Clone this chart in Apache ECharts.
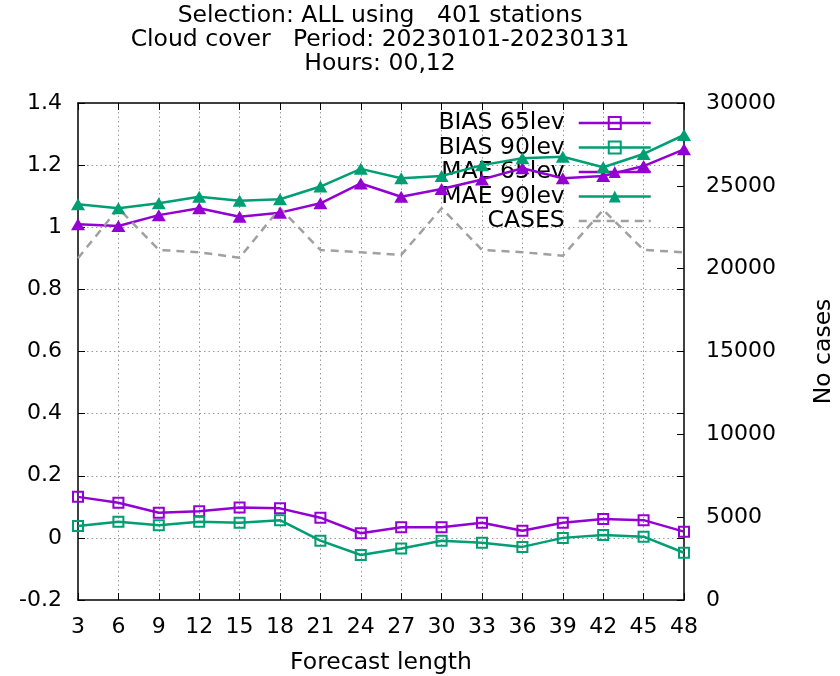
<!DOCTYPE html>
<html>
<head>
<meta charset="utf-8">
<title>Cloud cover verification</title>
<script src="https://cdn.jsdelivr.net/npm/echarts@6/dist/echarts.min.js"></script>
<style>
  html, body { margin: 0; padding: 0; background: #fff; }
  #chart { width: 840px; height: 676px; }
</style>
</head>
<body>
<div id="chart"></div>
<script>
// Forecast lengths (hours)
const steps = [3, 6, 9, 12, 15, 18, 21, 24, 27, 30, 33, 36, 39, 42, 45, 48];

// Scores per forecast length
const bias65 = [0.132, 0.113, 0.081, 0.086, 0.098, 0.095, 0.065, 0.015, 0.034, 0.034, 0.049, 0.023, 0.049, 0.061, 0.057, 0.020];
const bias90 = [0.038, 0.052, 0.041, 0.052, 0.049, 0.057, -0.009, -0.055, -0.034, -0.009, -0.016, -0.029, 0.000, 0.009, 0.004, -0.048];
const mae65 = [1.010, 1.004, 1.039, 1.061, 1.034, 1.047, 1.077, 1.141, 1.098, 1.123, 1.154, 1.190, 1.158, 1.165, 1.197, 1.251];
const mae90 = [1.074, 1.061, 1.077, 1.098, 1.085, 1.090, 1.131, 1.188, 1.158, 1.165, 1.200, 1.222, 1.227, 1.193, 1.236, 1.297];

// Number of cases per forecast length
const cases = [20630, 23650, 21130, 20990, 20660, 23650, 21130, 20990, 20830, 23650, 21130, 20990, 20780, 23550, 21130, 20990];

const titleLines = ['Selection: ALL using   401 stations', 'Cloud cover   Period: 20230101-20230131', 'Hours: 00,12'];

const PURPLE = '#9400d3';
const GREEN = '#009e73';
const GREY = '#a0a0a0';
const FONT = 'DejaVu Sans';
const FS = 22;     // tick labels
const FS_TXT = 23.5; // title, legend, axis names

const pairs = vals => steps.map((s, i) => [s, vals[i]]);

const chart = echarts.init(document.getElementById('chart'), null, { renderer: 'canvas' });

const tickStyle = { show: true, inside: true, length: 7, lineStyle: { color: '#000', width: 1 } };
const boxLine = { show: true, onZero: false, lineStyle: { color: '#000', width: 1.5 } };
const gridDots = { show: true, showMinLine: false, showMaxLine: false, lineStyle: { color: '#999', width: 1, type: [1.5, 3] } };
const labelStyle = { color: '#000', fontFamily: FONT, fontSize: FS };
const nameStyle = { color: '#000', fontFamily: FONT, fontSize: FS_TXT };

function squareSeries(name, color, vals) {
  return {
    name, type: 'line', data: pairs(vals), xAxisIndex: 0, yAxisIndex: 0,
    symbol: 'rect', symbolSize: 10,
    lineStyle: { color, width: 2.5 },
    itemStyle: { color: 'rgba(0,0,0,0)', borderColor: color, borderWidth: 2 },
    emphasis: { disabled: true }, animation: false, z: 3
  };
}
function triangleSeries(name, color, vals) {
  return {
    name, type: 'line', data: pairs(vals), xAxisIndex: 0, yAxisIndex: 0,
    symbol: 'triangle', symbolSize: [14, 12],
    lineStyle: { color, width: 2.5 },
    itemStyle: { color },
    emphasis: { disabled: true }, animation: false, z: 3
  };
}

chart.setOption({
  backgroundColor: '#fff',
  textStyle: { fontFamily: FONT },
  graphic: [{
    type: 'text', x: 380, y: 4,
    style: {
      text: titleLines.join('\n'), textAlign: 'center',
      font: FS_TXT + 'px "' + FONT + '"', lineHeight: 24, fill: '#000'
    }
  }],
  grid: { left: 78, right: 156, top: 103, bottom: 76, containLabel: false, outerBoundsMode: 'none' },
  legend: {
    orient: 'vertical', align: 'right', right: 188, top: 111, z: 1, padding: 0,
    itemWidth: 72, itemHeight: 15, itemGap: 0.5,
    lineStyle: { width: 2.5 },
    textStyle: { color: '#000', fontFamily: FONT, fontSize: FS_TXT, lineHeight: 24, padding: [0, 9, 0, 0] },
    data: ['BIAS 65lev', 'BIAS 90lev', 'MAE 65lev', 'MAE 90lev', { name: 'CASES', itemStyle: { opacity: 0 } }],
    selectedMode: false
  },
  xAxis: [{
    type: 'value', position: 'bottom', min: 3, max: 48, interval: 3,
    axisLine: boxLine, axisTick: tickStyle, splitLine: gridDots,
    axisLabel: Object.assign({ margin: 16 }, labelStyle),
    name: 'Forecast length', nameLocation: 'middle', nameGap: 51,
    nameTextStyle: nameStyle
  }, {
    type: 'value', position: 'top', min: 3, max: 48, interval: 3,
    axisLine: boxLine, axisTick: tickStyle, splitLine: { show: false },
    axisLabel: { show: false }
  }],
  yAxis: [{
    type: 'value', position: 'left', min: -0.2, max: 1.4, interval: 0.2,
    axisLine: boxLine, axisTick: tickStyle, splitLine: gridDots,
    axisLabel: Object.assign({ margin: 16 }, labelStyle)
  }, {
    type: 'value', position: 'right', min: 0, max: 30000, interval: 5000,
    axisLine: boxLine, axisTick: tickStyle, splitLine: { show: false },
    axisLabel: Object.assign({ margin: 22, formatter: v => String(v) }, labelStyle),
    name: 'No cases', nameLocation: 'middle', nameRotate: 90, nameGap: 128,
    nameTextStyle: nameStyle
  }, {
    type: 'value', position: 'right', min: -0.2, max: 1.4, interval: 0.2,
    axisLine: { show: false, onZero: false }, axisTick: tickStyle, splitLine: { show: false },
    axisLabel: { show: false }
  }],
  series: [
    squareSeries('BIAS 65lev', PURPLE, bias65),
    squareSeries('BIAS 90lev', GREEN, bias90),
    triangleSeries('MAE 65lev', PURPLE, mae65),
    triangleSeries('MAE 90lev', GREEN, mae90),
    {
      name: 'CASES', type: 'line', data: pairs(cases), xAxisIndex: 0, yAxisIndex: 1,
      symbol: 'none', lineStyle: { color: GREY, width: 2.5, type: [8, 6] },
      itemStyle: { color: GREY },
      emphasis: { disabled: true }, animation: false, z: 3
    }
  ]
});
</script>
</body>
</html>
